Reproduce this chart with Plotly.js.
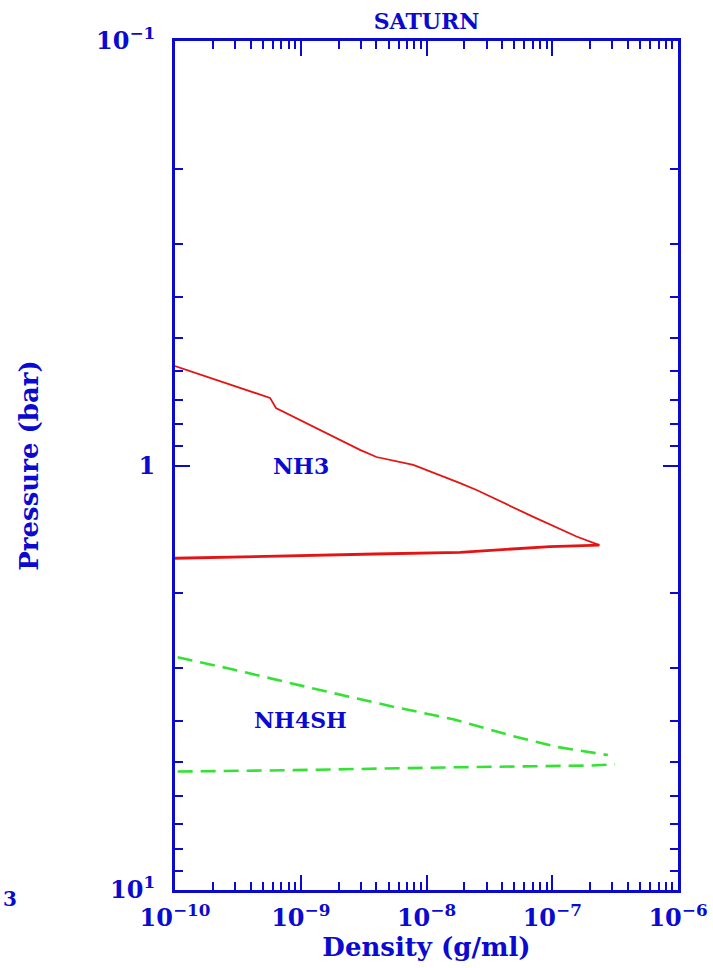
<!DOCTYPE html>
<html>
<head>
<meta charset="utf-8">
<script src="https://cdn.plot.ly/plotly-3.0.1.min.js"></script>
<style>
  html, body { margin: 0; padding: 0; background: #ffffff; }
  #chart { width: 713px; height: 968px; }
</style>
</head>
<body>
<div id="chart"></div>
<script>
// Saturn cloud layers: density (g/ml) against pressure (bar)
const nh3TopDensity   = [1.0e-10, 5.7e-10, 6.35e-10, 2.96e-9, 4.0e-9, 7.85e-9, 1.85e-8, 2.5e-8, 7.0e-8, 1.56e-7, 2.37e-7];
const nh3TopPressure  = [0.583, 0.693, 0.732, 0.919, 0.955, 0.997, 1.10, 1.142, 1.32, 1.47, 1.54];
const nh3BaseDensity  = [1.0e-10, 8.2e-10, 3.9e-9, 1.85e-8, 3.84e-8, 9.6e-8, 2.37e-7];
const nh3BasePressure = [1.654, 1.629, 1.616, 1.602, 1.581, 1.552, 1.54];

const nh4shTopDensity   = [1.05e-10, 2.58e-10, 1.42e-9, 5.42e-9, 1.63e-8, 4.88e-8, 1.08e-7, 2.77e-7];
const nh4shTopPressure  = [2.83, 3.00, 3.38, 3.70, 3.96, 4.34, 4.60, 4.81];
const nh4shBaseDensity  = [1.05e-10, 8.67e-10, 1.63e-8, 4.88e-8, 2.0e-7, 3.16e-7];
const nh4shBasePressure = [5.26, 5.22, 5.14, 5.12, 5.09, 5.06];

const cloudNames     = ['NH3', 'NH4SH'];
const labelDensity   = [1.0e-9, 1.0e-9];
const labelPressure  = [1.0, 3.98];

const xTickVals  = [1e-10, 1e-9, 1e-8, 1e-7, 1e-6];
const xTickText  = ['10<sup>−10</sup>', '10<sup>−9</sup>', '10<sup>−8</sup>', '10<sup>−7</sup>', '10<sup>−6</sup>'];
const yTickVals  = [0.1, 1, 10];
const yTickText  = ['10<sup>−1</sup>', '1', '10<sup>1</sup>'];

const BLUE = '#0a0ad0';
const RED = '#e41414';
const GREEN = '#33e233';
const FONT = 'DejaVu Serif';

const traces = [
  { x: nh3TopDensity, y: nh3TopPressure, mode: 'lines', line: { color: RED, width: 1.8 } },
  { x: nh3BaseDensity, y: nh3BasePressure, mode: 'lines', line: { color: RED, width: 2.8 } },
  { x: nh4shTopDensity, y: nh4shTopPressure, mode: 'lines', line: { color: GREEN, width: 2.6, dash: '15px,8px' } },
  { x: nh4shBaseDensity, y: nh4shBasePressure, mode: 'lines', line: { color: GREEN, width: 2.6, dash: '15px,8px' } }
];

const annotations = cloudNames.map((name, i) => ({
  text: name, x: Math.log10(labelDensity[i]), y: Math.log10(labelPressure[i]),
  xref: 'x', yref: 'y', showarrow: false,
  font: { family: FONT, size: 22, color: BLUE, weight: 'bold' }
}));
// fragment of a neighbouring panel's label at the lower left edge
annotations.push({
  text: '3', xref: 'paper', yref: 'paper', x: -0.346, y: -0.011,
  xanchor: 'left', yanchor: 'middle', showarrow: false,
  font: { family: FONT, size: 20, color: BLUE, weight: 'bold' }
});

const axisCommon = {
  type: 'log', showgrid: false, zeroline: false,
  showline: true, linecolor: BLUE, linewidth: 3, mirror: 'ticks',
  ticks: 'inside', ticklen: 15, tickwidth: 2, tickcolor: BLUE,
  tickmode: 'array',
  minor: { ticks: 'inside', ticklen: 8, tickwidth: 2, tickcolor: BLUE, dtick: 'D1', showgrid: false },
  tickfont: { family: FONT, size: 24, color: BLUE, weight: 'bold' }
};

const layout = {
  width: 713, height: 968,
  margin: { l: 175, r: 35, t: 41, b: 78 },
  paper_bgcolor: '#ffffff', plot_bgcolor: '#ffffff',
  showlegend: false,
  title: {
    text: 'SATURN', x: 0.5, xref: 'paper', y: 1 - 21 / 968, yref: 'container',
    xanchor: 'center', yanchor: 'middle',
    font: { family: FONT, size: 22, color: BLUE, weight: 'bold' }
  },
  xaxis: Object.assign({}, axisCommon, {
    range: [-10, -6], tickvals: xTickVals, ticktext: xTickText,
    ticklabelstandoff: 4,
    title: { text: 'Density (g/ml)', standoff: 8, font: { family: FONT, size: 26, color: BLUE, weight: 'bold' } }
  }),
  yaxis: Object.assign({}, axisCommon, {
    range: [1, -1], tickvals: yTickVals, ticktext: yTickText,
    ticklabelstandoff: 12,
    title: { text: 'Pressure (bar)', standoff: 50, font: { family: FONT, size: 26, color: BLUE, weight: 'bold' } }
  }),
  annotations: annotations
};

Plotly.newPlot('chart', traces, layout, { displayModeBar: false, staticPlot: true });
</script>
</body>
</html>
